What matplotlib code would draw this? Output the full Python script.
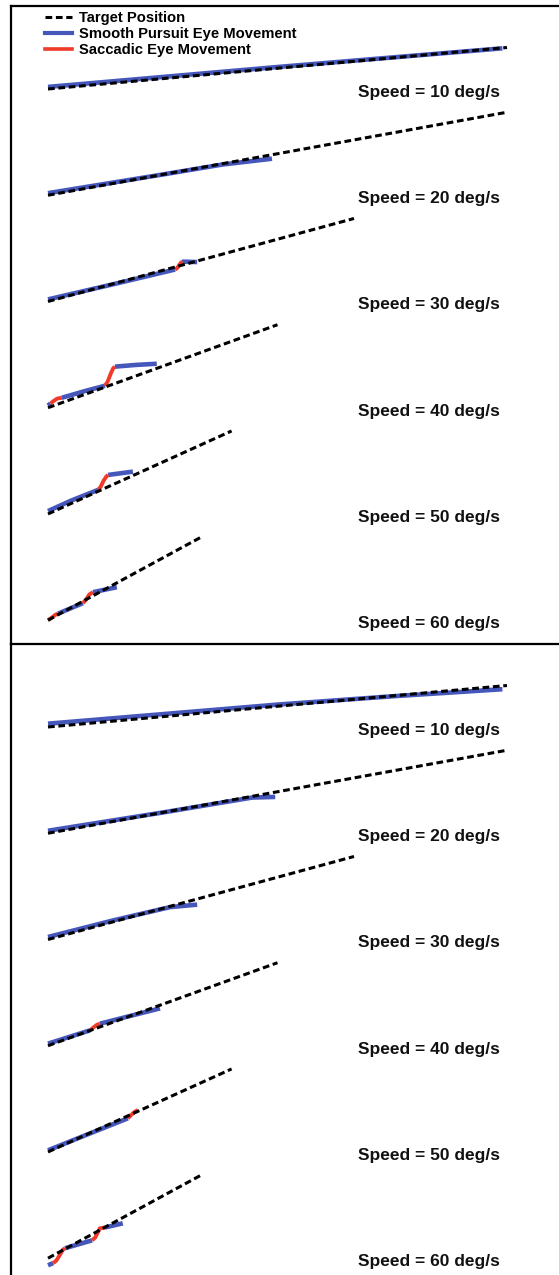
import matplotlib.pyplot as plt
from matplotlib.lines import Line2D

#--- Data: time (s) and eye / target position (deg)
speeds = [10, 20, 30, 40, 50, 60]
amplitude = 20.0     # target stops after 20 deg
duration = 1.0       # time window (s)

# smooth pursuit segments, one list per speed
top_pursuit = [
    [([0, 0.25, 0.5, 0.75, 0.99], [0.5, 2.9, 5.3, 7.6, 9.8])],
    [([0, 0.25, 0.38, 0.488], [0.5, 5.0, 7.4, 8.8])],
    [([0, 0.14, 0.277], [0.5, 4.1, 7.7]), ([0.292, 0.325], [9.6, 9.5])],
    [([0, 0.005], [0.5, 1.0]), ([0.03, 0.08, 0.124], [2.4, 4.0, 5.3]),
     ([0.146, 0.19, 0.237], [9.9, 10.3, 10.6])],
    [([0, 0.05, 0.109], [0.7, 3.2, 5.8]), ([0.131, 0.185], [9.4, 10.2])],
    [([0.022, 0.076], [1.6, 4.1]), ([0.098, 0.150], [6.75, 7.95])],
]
# saccade segments
top_saccade = [
    [],
    [],
    [([0.277, 0.281, 0.286, 0.290, 0.293], [7.7, 8.0, 8.8, 9.4, 9.6])],
    [([0.005, 0.012, 0.02, 0.03], [1.0, 1.6, 2.2, 2.4]),
     ([0.124, 0.130, 0.137, 0.142, 0.146], [5.3, 6.3, 8.3, 9.5, 9.9])],
    [([0.109, 0.115, 0.121, 0.127, 0.131], [5.8, 6.6, 8.0, 9.0, 9.4])],
    [([0, 0.008, 0.016, 0.022], [0.0, 0.6, 1.3, 1.6]),
     ([0.076, 0.083, 0.09, 0.098], [4.1, 5.0, 6.2, 6.75])],
]

bottom_pursuit = [
    [([0, 0.25, 0.5, 0.75, 0.99], [0.8, 3.1, 5.4, 7.4, 9.1])],
    [([0, 0.25, 0.445, 0.495], [0.6, 5.0, 8.6, 8.75])],
    [([0, 0.142, 0.266, 0.325], [0.6, 4.6, 7.8, 8.4])],
    [([0, 0.0915], [0.5, 3.7]), ([0.113, 0.18, 0.244], [5.3, 7.2, 9.0])],
    [([0, 0.09, 0.174], [0.4, 4.4, 8.1])],
    [([0, 0.011], [-1.7, -1.2]), ([0.037, 0.096], [2.4, 4.3]),
     ([0.124, 0.163], [7.4, 8.4])],
]
bottom_saccade = [
    [],
    [],
    [],
    [([0.0915, 0.098, 0.106, 0.113], [3.7, 4.3, 5.0, 5.3])],
    [([0.174, 0.181, 0.189, 0.196], [8.1, 8.9, 9.7, 10.1])],
    [([0.011, 0.018, 0.026, 0.032, 0.037], [-1.2, -0.6, 0.8, 2.0, 2.4]),
     ([0.096, 0.103, 0.113, 0.124], [4.3, 5.0, 7.2, 7.4])],
]

#--- Style
blue = '#4657bb'
red = '#f03a2a'
dash = (0, (2.2, 1.2))
W, H = 559, 1275
px_per_s = 459.0
px_per_deg = 4.15
row_gap = 25.6   # deg between rows

plt.rcParams['font.family'] = ['Liberation Sans', 'DejaVu Sans']
fig = plt.figure(figsize=(W / 100, H / 100), dpi=100)


def draw_panel(ax, pursuit, saccade, top_px, bottom_px):
    height_px = bottom_px - top_px
    ax.set_xlim(-37 / px_per_s, (W - 48) / px_per_s)
    ax.set_ylim(20 - height_px / px_per_deg, 20)
    for i, spd in enumerate(speeds):
        off = -row_gap * i
        for t, p in pursuit[i]:
            ax.plot(t, [v + off for v in p], color=blue, lw=3.3,
                    solid_capstyle='butt', zorder=2)
        for t, p in saccade[i]:
            ax.plot(t, [v + off for v in p], color=red, lw=2.8,
                    solid_capstyle='butt', zorder=3)
        t_end = min(duration, amplitude / spd)
        ax.plot([0, t_end], [off, spd * t_end + off], color='black',
                lw=2.2, linestyle=dash, zorder=4)
        ax.text(0.675, off - 0.8, f'Speed = {spd} deg/s', fontsize=12.5,
                fontweight='bold', ha='left', va='center', color='#111111')
    ax.set_xticks([])
    ax.set_yticks([])
    for s in ['right', 'bottom']:
        ax.spines[s].set_visible(False)
    for s in ['top', 'left']:
        ax.spines[s].set_linewidth(1.6)


ax1 = fig.add_axes([11 / W, (H - 644) / H, (W - 11) / W, 638 / H])
draw_panel(ax1, top_pursuit, top_saccade, 6, 644)
ax2 = fig.add_axes([11 / W, 0, (W - 11) / W, (H - 644) / H])
draw_panel(ax2, bottom_pursuit, bottom_saccade, 644, 1275)

handles = [
    Line2D([], [], color='black', lw=2.2, linestyle=dash),
    Line2D([], [], color=blue, lw=3.0),
    Line2D([], [], color=red, lw=2.6),
]
labels = ['Target Position', 'Smooth Pursuit Eye Movement', 'Saccadic Eye Movement']
fig.legend(handles, labels, loc='upper left',
           bbox_to_anchor=(45 / W, 1 - 11 / H), frameon=False,
           borderpad=0, borderaxespad=0, handlelength=1.8, handletextpad=0.5,
           labelspacing=0.14, prop={'weight': 'bold', 'size': 10.6})

fig.savefig('out.png', dpi=100)
